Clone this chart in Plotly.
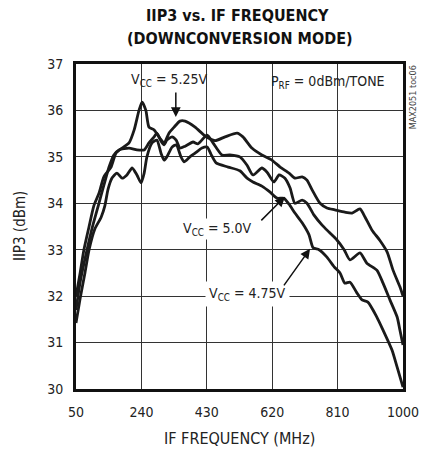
import plotly.graph_objects as go

# ---- data ----
x_ticks = [50, 240, 430, 620, 810, 1000]
y_ticks = [30, 31, 32, 33, 34, 35, 36, 37]

vcc525_f = [50, 62, 73, 88, 102, 117, 131, 152, 166, 184, 204, 219, 233, 242, 253, 262, 277, 291, 306,
            320, 335, 352, 367, 396, 425, 454, 483, 518, 535, 561, 590, 619, 643, 669, 686, 707, 721,
            736, 759, 779, 802, 831, 852, 875, 890, 910, 933, 954, 971, 991, 1000]
vcc525_iip3 = [32.0, 32.5, 33.0, 33.5, 33.95, 34.22, 34.57, 34.78, 35.08, 35.19, 35.3, 35.58, 36.0, 36.18,
               36.0, 35.64, 35.58, 35.43, 35.3, 35.51, 35.64, 35.77, 35.77, 35.64, 35.45, 35.35, 35.43,
               35.51, 35.43, 35.19, 35.04, 34.93, 34.78, 34.65, 34.54, 34.57, 34.5, 34.29, 34.0, 33.9,
               33.86, 33.81, 33.79, 33.88, 33.7, 33.42, 33.2, 32.95, 32.56, 32.2, 32.0]

vcc50_f = [50, 62, 82, 98, 114, 131, 146, 160, 175, 204, 227, 248, 262, 277, 285, 297, 306, 314, 329, 341,
           352, 367, 390, 404, 431, 448, 474, 497, 526, 547, 564, 590, 605, 625, 640, 657, 672, 686, 707,
           721, 741, 765, 785, 808, 829, 846, 875, 895, 924, 942, 962, 983, 991, 1000]
vcc50_iip3 = [31.7, 32.3, 33.0, 33.5, 33.93, 34.39, 34.78, 35.04, 35.15, 35.19, 35.15, 35.15, 35.3, 35.43,
              35.51, 35.34, 35.26, 35.36, 35.43, 35.36, 35.19, 35.23, 35.32, 35.28, 35.47, 35.3, 35.04,
              35.04, 35.0, 34.82, 34.61, 34.76, 34.67, 34.46, 34.61, 34.54, 34.33, 34.0, 34.07, 34.0,
              33.75, 33.53, 33.38, 33.21, 33.0, 32.78, 32.93, 32.71, 32.56, 32.28, 31.92, 31.55, 31.27,
              30.95]

vcc475_f = [50, 62, 76, 88, 105, 123, 134, 143, 155, 169, 184, 198, 213, 227, 239, 248, 256, 271, 285, 297,
            306, 314, 329, 341, 355, 364, 381, 396, 416, 431, 442, 457, 492, 526, 547, 564, 590, 614, 634,
            654, 669, 686, 707, 727, 739, 756, 779, 800, 817, 831, 846, 866, 881, 898, 924, 942, 968, 983,
            1000]
vcc475_iip3 = [31.42, 31.95, 32.5, 33.0, 33.45, 33.7, 33.95, 34.3, 34.55, 34.65, 34.54, 34.61, 34.76, 34.61,
               34.44, 34.65, 35.0, 35.3, 35.36, 35.08, 34.93, 35.0, 35.21, 35.26, 35.0, 34.89, 35.0, 35.08,
               35.19, 35.21, 35.06, 34.87, 34.78, 34.7, 34.54, 34.46, 34.37, 34.24, 34.11, 34.11, 33.98,
               33.79, 33.58, 33.32, 33.04, 33.0, 32.84, 32.63, 32.5, 32.28, 32.3, 32.07, 31.92, 31.87,
               31.55, 31.27, 30.84, 30.47, 30.04]

FONT = "Liberation Sans Narrow, DejaVu Sans Condensed, Arial Narrow, Liberation Sans, sans-serif"

fig = go.Figure()
for fx, fy in [(vcc525_f, vcc525_iip3), (vcc50_f, vcc50_iip3), (vcc475_f, vcc475_iip3)]:
    fig.add_trace(go.Scatter(x=fx, y=fy, mode="lines",
                             line=dict(color="#1a1a1a", width=2.8, shape="spline", smoothing=0.6),
                             showlegend=False, hoverinfo="skip"))

anns = []
# title lines
anns.append(dict(x=0.495, y=1.148, xref="paper", yref="paper", text="<b>IIP3 vs. IF FREQUENCY</b>",
                 showarrow=False, xanchor="center", yanchor="middle",
                 font=dict(size=16, color="#111", family=FONT)))
anns.append(dict(x=0.502, y=1.077, xref="paper", yref="paper", text="<b>(DOWNCONVERSION MODE)</b>",
                 showarrow=False, xanchor="center", yanchor="middle",
                 font=dict(size=16, color="#111", family=FONT)))
# axis titles
anns.append(dict(x=0.5015, y=-0.151, xref="paper", yref="paper", text="IF FREQUENCY (MHz)",
                 showarrow=False, xanchor="center", yanchor="middle",
                 font=dict(size=16, color="#222", family=FONT)))
anns.append(dict(x=-0.171, y=0.5015, xref="paper", yref="paper", text="IIP3 (dBm)", textangle=-90,
                 showarrow=False, xanchor="center", yanchor="middle",
                 font=dict(size=15, color="#222", family=FONT)))
# labels
anns.append(dict(x=323, y=36.66, xref="x", yref="y", text="V<sub>CC</sub> = 5.25V", showarrow=False,
                 font=dict(size=14, color="#222", family=FONT)))
anns.append(dict(x=462, y=33.45, xref="x", yref="y", text="V<sub>CC</sub> = 5.0V", showarrow=False,
                 bgcolor="white", font=dict(size=14, color="#222", family=FONT)))
anns.append(dict(x=547, y=32.05, xref="x", yref="y", text="V<sub>CC</sub> = 4.75V", showarrow=False,
                 bgcolor="white", borderpad=3, font=dict(size=14, color="#222", family=FONT)))
anns.append(dict(x=782, y=36.61, xref="x", yref="y", text="P<sub>RF</sub> = 0dBm/TONE", showarrow=False,
                 font=dict(size=14, color="#222", family=FONT)))
# arrows
for (tx, ty, axx, ayy) in [(340, 35.86, 340, 36.42), (657, 34.14, 584, 33.6), (730, 33.02, 651, 32.2)]:
    anns.append(dict(x=tx, y=ty, ax=axx, ay=ayy, xref="x", yref="y", axref="x", ayref="y", text="",
                     showarrow=True, arrowhead=2, arrowsize=1.3, arrowwidth=1.5, arrowcolor="#111"))
# side tag
anns.append(dict(x=1.031, y=0.898, xref="paper", yref="paper", text="MAX2051 toc06", showarrow=False,
                 textangle=-90, xanchor="center", yanchor="middle",
                 font=dict(size=9, color="#444", family=FONT)))

fig.update_layout(
    width=433, height=451,
    margin=dict(l=76, r=30, t=64, b=62),
    paper_bgcolor="white", plot_bgcolor="white",
    annotations=anns,
    font=dict(family=FONT, color="#222"),
)
fig.update_xaxes(range=[50, 1000], tickvals=x_ticks, ticktext=[str(v) for v in x_ticks],
                 showgrid=True, gridcolor="#333", gridwidth=1,
                 showline=True, linecolor="#111", linewidth=3, mirror=True,
                 ticks="", ticklabelstandoff=8, tickfont=dict(size=14, family=FONT, color="#222"),
                 automargin=False, zeroline=False)
fig.update_yaxes(range=[30, 37], tickvals=y_ticks, ticktext=[str(v) for v in y_ticks],
                 showgrid=True, gridcolor="#333", gridwidth=1,
                 showline=True, linecolor="#111", linewidth=3, mirror=True,
                 ticks="", ticklabelstandoff=7, tickfont=dict(size=14, family=FONT, color="#222"),
                 automargin=False, zeroline=False)

fig.write_html("out.html")
